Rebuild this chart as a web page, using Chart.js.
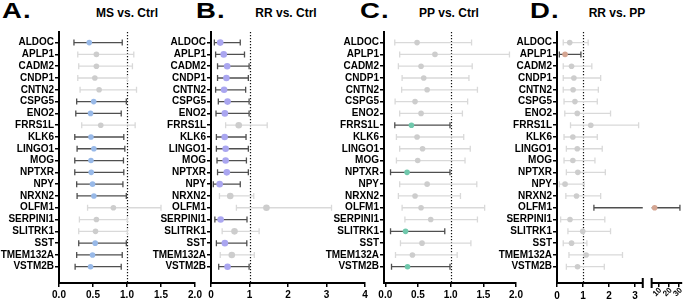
<!DOCTYPE html>
<html><head><meta charset="utf-8">
<script src="https://cdn.jsdelivr.net/npm/chart.js@4.4.1/dist/chart.umd.min.js"></script>
<style>
body{margin:0;width:685px;height:302px;background:#fff;overflow:hidden;position:relative;font-family:"Liberation Sans",Arial,sans-serif;}
canvas{position:absolute;top:0;}
.lt{position:absolute;font-weight:bold;font-size:22px;line-height:22px;top:0;transform:scaleX(1.25);transform-origin:left top;letter-spacing:1px;color:#000;}
.tt{position:absolute;font-weight:bold;font-size:12px;line-height:12px;top:7px;transform:translateX(-50%);white-space:nowrap;color:#000;}
</style></head><body>
<div class="lt" style="left:2px">A.</div><div class="tt" style="left:127px">MS vs. Ctrl</div>
<div class="lt" style="left:196px">B.</div><div class="tt" style="left:286px">RR vs. Ctrl</div>
<div class="lt" style="left:360px">C.</div><div class="tt" style="left:449px">PP vs. Ctrl</div>
<div class="lt" style="left:530px">D.</div><div class="tt" style="left:617px">RR vs. PP</div>
<canvas id="cA"></canvas><canvas id="cB"></canvas><canvas id="cC"></canvas><canvas id="cD"></canvas>
<script>
// ---------- data ----------
const genes = ['ALDOC','APLP1','CADM2','CNDP1','CNTN2','CSPG5','ENO2','FRRS1L','KLK6','LINGO1','MOG','NPTXR','NPY','NRXN2','OLFM1','SERPINI1','SLITRK1','SST','TMEM132A','VSTM2B'];

const msMid = [0.445,0.55,0.55,0.527,0.59,0.51,0.464,0.614,0.47,0.513,0.47,0.474,0.493,0.513,0.80,0.55,0.537,0.532,0.493,0.464];
const msLo  = [0.22,0.276,0.29,0.276,0.31,0.26,0.247,0.334,0.232,0.266,0.232,0.232,0.26,0.266,0.42,0.30,0.29,0.29,0.26,0.237];
const msHi  = [0.93,1.10,1.08,1.006,1.14,0.99,0.915,1.12,0.953,0.968,0.948,0.953,0.94,0.99,1.50,1.006,1.006,0.99,0.93,0.915];
const msSig = [1,0,0,0,0,1,1,0,1,1,1,1,1,1,0,0,0,1,1,1];

const rrMid = [0.24,0.33,0.42,0.40,0.34,0.43,0.36,0.72,0.355,0.38,0.38,0.41,0.225,0.50,1.44,0.25,0.61,0.36,0.54,0.43];
const rrLo  = [0.087,0.12,0.17,0.17,0.12,0.19,0.13,0.38,0.14,0.14,0.156,0.17,0.06,0.22,0.66,0.10,0.29,0.14,0.24,0.20];
const rrHi  = [0.76,0.87,0.99,0.97,0.90,0.99,0.99,1.46,0.91,0.97,0.92,0.97,0.76,1.11,3.13,0.935,1.25,0.93,1.125,0.99];
const rrSig = [1,1,1,1,1,1,1,0,1,1,1,1,1,0,0,1,0,1,0,1];

const ppMid = [0.486,0.76,0.547,0.588,0.64,0.455,0.547,0.40,0.486,0.57,0.496,0.333,0.64,0.455,0.547,0.695,0.31,0.562,0.415,0.34];
const ppLo  = [0.145,0.22,0.20,0.257,0.25,0.15,0.22,0.145,0.17,0.22,0.17,0.08,0.22,0.20,0.257,0.30,0.08,0.232,0.156,0.095];
const ppHi  = [1.32,1.90,1.33,1.28,1.41,1.26,1.18,0.99,1.20,1.30,1.22,0.99,1.40,1.15,1.52,1.41,0.91,1.31,1.10,0.99];
const ppSig = [0,0,0,0,0,0,0,1,0,0,0,1,0,0,0,0,1,0,0,1];

const rpMid = [0.49,0.31,0.56,0.65,0.62,0.69,0.78,1.30,0.61,0.78,0.61,0.80,0.31,0.75,6.4,0.50,0.99,0.56,1.12,0.79];
const rpLo  = [0.24,0.09,0.24,0.24,0.24,0.27,0.30,0.52,0.27,0.36,0.27,0.36,0.09,0.34,1.42,0.14,0.42,0.24,0.46,0.36];
const rpHi  = [1.20,0.92,1.34,1.68,1.59,1.55,2.06,3.14,1.55,1.74,1.46,1.86,1.05,1.68,30.8,1.84,2.06,1.15,2.52,1.82];
const rpSig = [0,1,0,0,0,0,0,0,0,0,0,0,0,0,1,0,0,0,0,0];

const ticksA = [0,0.5,1,1.5,2];   const labelsA = ['0.0','0.5','1.0','1.5','2.0'];
const ticksB = [0,1,2,3,4];       const labelsB = ['0','1','2','3','4'];
const ticksC = [0,0.5,1,1.5,2];   const labelsC = ['0.0','0.5','1.0','1.5','2.0'];
const ticksD = [0,1,2,3,10,20,30];const labelsD = ['0','1','2','3','10','20','30'];

// ---------- styling / helpers ----------
const FONT = '"Liberation Sans", Arial, sans-serif';
const GRAY_PT = '#cdcdcd', DARK_BAR = '#4f4f4f', LIGHT_BAR = '#d9d9d9';

// broken axis for panel D: two pieces of the value range, laid along fractions of the axis
const dPieces = [{min:0,max:3.3,from:0,to:87/127},{min:3.5,max:33,from:96/127,to:1}];
class BrokenScale extends Chart.LinearScale {
  _frac(v){
    const [a,b] = dPieces;
    if (v <= a.max) return a.from + (v-a.min)/(a.max-a.min)*(a.to-a.from);
    if (v < b.min) return a.to + (v-a.max)/(b.min-a.max)*(b.from-a.to);
    return b.from + (v-b.min)/(b.max-b.min)*(b.to-b.from);
  }
  getPixelForValue(v){ return this._startPixel + this._frac(v)*this._length; }
  getValueForPixel(p){
    const f = (p - this._startPixel)/this._length, [a,b] = dPieces;
    if (f <= a.to) return a.min + (f-a.from)/(a.to-a.from)*(a.max-a.min);
    return b.min + (f-b.from)/(b.to-b.from)*(b.max-b.min);
  }
}
BrokenScale.id = 'broken';
BrokenScale.defaults = Chart.LinearScale.defaults;
Chart.register(BrokenScale);

const WY = 62, H = 302, XH = 19;

function makePanel(p){
  const canvas = document.getElementById(p.id);
  const left = p.axisX - WY;
  const padR = p.broken ? 1 : 14;
  const width = p.rightX - left + padR;
  canvas.width = width; canvas.height = H;
  canvas.style.left = left + 'px';

  const forest = {
    id: 'forest_' + p.id,
    beforeDatasetsDraw(chart){
      const xs = chart.scales.x, ys = chart.scales.y, c = chart.ctx, a = chart.chartArea;
      c.save();
      // reference line at 1
      const x1 = Math.round(xs.getPixelForValue(1)) + 0.5;
      c.strokeStyle = '#111'; c.lineWidth = 1.2; c.setLineDash([1.2,1.8]);
      c.beginPath(); c.moveTo(x1, a.top); c.lineTo(x1, a.bottom); c.stroke();
      c.setLineDash([]);
      // error bars
      c.lineWidth = 1.3;
      for (let i = 0; i < genes.length; i++){
        const y = ys.getPixelForValue(i+1);
        const xl = xs.getPixelForValue(p.lo[i]), xh = xs.getPixelForValue(p.hi[i]);
        c.strokeStyle = p.sig[i] ? DARK_BAR : LIGHT_BAR;
        c.beginPath();
        if (p.broken && p.lo[i] < dPieces[0].max && p.hi[i] > dPieces[1].min){
          // bar interrupted across the axis break
          c.moveTo(xl, y); c.lineTo(xs.getPixelForValue(dPieces[0].max), y);
          c.moveTo(xs.getPixelForValue(dPieces[1].min), y); c.lineTo(xh, y);
        } else {
          c.moveTo(xl, y); c.lineTo(xh, y);
        }
        c.moveTo(xl, y-3); c.lineTo(xl, y+3);
        c.moveTo(xh, y-3); c.lineTo(xh, y+3);
        c.stroke();
      }
      c.restore();
    },
    afterDraw(chart){
      if (!p.broken) return;
      const xs = chart.scales.x, c = chart.ctx, a = chart.chartArea;
      const yb = a.bottom;
      c.save();
      c.strokeStyle = '#000'; c.lineWidth = 2;
      const [pa, pb] = dPieces;
      const s1a = xs.getPixelForValue(pa.min), s1b = xs.getPixelForValue(pa.max) ;
      const s2a = xs.getPixelForValue(pb.min), s2b = xs.getPixelForValue(pb.max);
      c.beginPath();
      c.moveTo(s1a-1, yb); c.lineTo(s1b, yb);
      c.moveTo(s1b, yb-5); c.lineTo(s1b, yb+5);
      c.moveTo(s2a, yb); c.lineTo(s2b, yb);
      c.moveTo(s2a, yb-5); c.lineTo(s2a, yb+5);
      c.stroke();
      c.fillStyle = '#000';
      p.ticks.forEach((v, i) => {
        const x = xs.getPixelForValue(v);
        if (v < 5){
          c.font = 'bold 10px ' + FONT;
          c.textAlign = 'center'; c.textBaseline = 'top';
          c.fillText(p.tickLabels[i], x, yb + 8);
        } else {
          c.font = 'bold 8px ' + FONT;
          c.save();
          c.translate(x + 2, yb + 6);
          c.rotate(-Math.PI/4);
          c.textAlign = 'right'; c.textBaseline = 'middle';
          c.fillText(p.tickLabels[i], 0, 0);
          c.restore();
        }
      });
      c.restore();
    }
  };

  const gridOpts = {display:true, drawOnChartArea:false, drawTicks:true, tickLength:4, lineWidth:1.5, color:'#000'};
  return new Chart(canvas.getContext('2d'), {
    type: 'scatter',
    data: { datasets: [{
      data: genes.map((g,i) => ({x: p.mid[i], y: i+1})),
      pointRadius: p.radius, pointHoverRadius: p.radius,
      pointBackgroundColor: p.sig.map(s => s ? p.color : GRAY_PT),
      pointBorderWidth: 0, pointBorderColor: 'rgba(0,0,0,0)'
    }]},
    options: {
      responsive:false, animation:false, events:[],
      layout:{padding:{top:32, right:padR, bottom:0, left:0}},
      plugins:{legend:{display:false}, tooltip:{enabled:false}},
      scales:{
        x:{
          type: p.broken ? 'broken' : 'linear', min: p.min, max: p.max,
          afterBuildTicks: s => { s.ticks = p.ticks.map(v => ({value:v})); },
          afterFit: s => { s.height = XH; },
          grid: gridOpts,
          border:{display: !p.broken, width:2, color:'#000'},
          ticks:{display: !p.broken, autoSkip:false, maxRotation:0, minRotation:0, padding:2, color:'#000',
                 font:{family:FONT, size:10, weight:'bold'},
                 callback:(v,i) => p.tickLabels[i]}
        },
        y:{
          type:'linear', reverse:true, min:0.1, max:21.38,
          afterBuildTicks: s => { s.ticks = genes.map((g,i) => ({value:i+1})); },
          afterFit: s => { s.width = WY; },
          grid: gridOpts,
          border:{display:true, width:2, color:'#000'},
          ticks:{autoSkip:false, padding:1, color:'#000',
                 font:{family:FONT, size:10, weight:'bold'},
                 callback:(v,i) => genes[i]}
        }
      }
    },
    plugins:[forest]
  });
}

makePanel({id:'cA', axisX:59,  rightX:195, min:0,     max:2, ticks:ticksA, tickLabels:labelsA, lo:msLo, mid:msMid, hi:msHi, sig:msSig, color:'#98b9e8', radius:2.8});
makePanel({id:'cB', axisX:211, rightX:365, min:0,     max:4, ticks:ticksB, tickLabels:labelsB, lo:rrLo, mid:rrMid, hi:rrHi, sig:rrSig, color:'#aaa6f0', radius:3.3});
makePanel({id:'cC', axisX:384, rightX:516, min:-0.02, max:2, ticks:ticksC, tickLabels:labelsC, lo:ppLo, mid:ppMid, hi:ppHi, sig:ppSig, color:'#70c8ac', radius:2.8});
makePanel({id:'cD', axisX:557, rightX:684, min:0,     max:33, ticks:ticksD, tickLabels:labelsD, lo:rpLo, mid:rpMid, hi:rpHi, sig:rpSig, color:'#d4a592', radius:2.8, broken:true});
</script>
</body></html>
